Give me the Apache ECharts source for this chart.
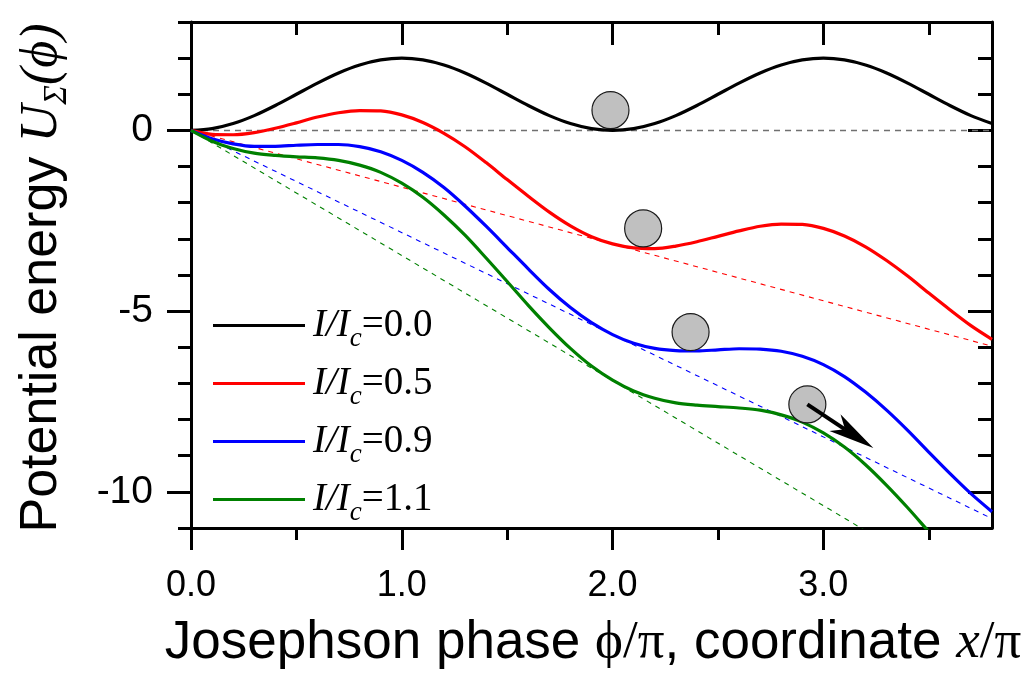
<!DOCTYPE html>
<html>
<head>
<meta charset="utf-8">
<script src="https://cdn.jsdelivr.net/npm/echarts@6/dist/echarts.min.js"></script>
<style>
  html, body { margin: 0; padding: 0; background: #fff; }
  #chart { width: 1030px; height: 676px; }
</style>
</head>
<body>
<div id="chart"></div>
<script>
// Josephson phase phi/pi (also coordinate x/pi)
const phase = [0.0, 0.1, 0.2, 0.3, 0.4, 0.5, 0.6, 0.7, 0.8, 0.9,
               1.0, 1.1, 1.2, 1.3, 1.4, 1.5, 1.6, 1.7, 1.8, 1.9,
               2.0, 2.1, 2.2, 2.3, 2.4, 2.5, 2.6, 2.7, 2.8, 2.9,
               3.0, 3.1, 3.2, 3.3, 3.4, 3.5, 3.6, 3.7, 3.8];

// Washboard potential for each bias current I/Ic
const u00 = [0, 0.05, 0.19, 0.41, 0.69, 1.00, 1.31, 1.59, 1.81, 1.95,
             2.00, 1.95, 1.81, 1.59, 1.31, 1.00, 0.69, 0.41, 0.19, 0.05,
             0.00, 0.05, 0.19, 0.41, 0.69, 1.00, 1.31, 1.59, 1.81, 1.95,
             2.00, 1.95, 1.81, 1.59, 1.31, 1.00, 0.69, 0.41, 0.19];
const u05 = [0, -0.11, -0.12, -0.06, 0.06, 0.21, 0.37, 0.49, 0.55, 0.54,
             0.43, 0.22, -0.08, -0.45, -0.89, -1.36, -1.82, -2.26, -2.64, -2.94,
             -3.14, -3.25, -3.27, -3.20, -3.08, -2.93, -2.78, -2.65, -2.59, -2.60,
             -2.71, -2.92, -3.22, -3.60, -4.03, -4.50, -4.96, -5.40, -5.78];
const u09 = [0, -0.23, -0.37, -0.44, -0.44, -0.41, -0.39, -0.39, -0.45, -0.59,
             -0.83, -1.16, -1.58, -2.09, -2.65, -3.24, -3.83, -4.40, -4.90, -5.32,
             -5.65, -5.89, -6.03, -6.09, -6.10, -6.07, -6.04, -6.05, -6.11, -6.25,
             -6.48, -6.81, -7.24, -7.74, -8.30, -8.90, -9.49, -10.05, -10.55];
const u11 = [0, -0.30, -0.50, -0.63, -0.69, -0.73, -0.76, -0.83, -0.96, -1.16,
             -1.46, -1.85, -2.34, -2.90, -3.53, -4.18, -4.84, -5.46, -6.03, -6.52,
             -6.91, -7.21, -7.41, -7.54, -7.60, -7.64, -7.68, -7.74, -7.87, -8.07,
             -8.37, -8.76, -9.25, -9.82, -10.44, -11.10, -11.75];

// Tilt lines (linear bias term), end points
const tiltX   = [0, 3.8];
const tilt00  = [0, 0];
const tilt05  = [0, -5.97];
const tilt09  = [0, -10.74];
const tilt11  = [0, -13.15];

// Bias current levels and their colours
const levels = ['0.0', '0.5', '0.9', '1.1'];
const colors = ['#000000', '#ff0000', '#0000ff', '#008000'];

// Particle (ball) positions on the potential
const ballX = [1.99, 2.145, 2.37, 2.924];
const ballY = [0.56, -2.71, -5.58, -7.58];

// Arrow showing the running state
const arrowFrom = [2.924, -7.58];
const arrowTo   = [3.237, -8.79];

// Axis ticks
const xMajor = [0, 1, 2, 3];
const xMinor = [0.5, 1.5, 2.5, 3.5];
const yMajor = [-10, -5, 0];
const yMinor = [-11, -9, -8, -7, -6, -4, -3, -2, -1, 1, 2, 3];

const seriesValues = [u00, u05, u09, u11];
const tiltValues = [tilt00, tilt05, tilt09, tilt11];
const names = levels.map(l => 'I/Ic=' + l);

const SERIF = "'Liberation Serif', 'DejaVu Serif', serif";
const SANS = "'Liberation Sans', Arial, sans-serif";

function xAxisDef(position, values, len, inside, withLine, withLabel) {
  return {
    type: 'value', position, min: 0, max: 3.8,
    splitLine: { show: false },
    minorTick: { show: false },
    axisLine: { show: withLine, onZero: false, lineStyle: { color: '#000', width: 3 } },
    axisTick: { show: true, inside, length: len, customValues: values,
                lineStyle: { color: '#000', width: 3 } },
    axisLabel: { show: withLabel, customValues: values, margin: 40,
                 formatter: v => v.toFixed(1),
                 color: '#000', fontFamily: SANS, fontSize: 36 },
    axisPointer: { show: false }
  };
}
function yAxisDef(position, values, len, inside, withLine, withLabel) {
  return {
    type: 'value', position, min: -11, max: 3,
    splitLine: { show: false },
    minorTick: { show: false },
    axisLine: { show: withLine, onZero: false, lineStyle: { color: '#000', width: 3 } },
    axisTick: { show: true, inside, length: len, customValues: values,
                lineStyle: { color: '#000', width: 3 } },
    axisLabel: { show: withLabel, customValues: values, margin: 38,
                 color: '#000', fontFamily: SANS, fontSize: 39 },
    axisPointer: { show: false }
  };
}

const series = [];
// tilt lines
tiltValues.forEach((t, k) => {
  series.push({
    type: 'line', name: 'tilt' + k, silent: true, symbol: 'none', z: 1,
    data: tiltX.map((x, i) => [x, t[i]]),
    lineStyle: { color: k === 0 ? '#707070' : colors[k], width: k === 0 ? 1.6 : 1.1,
                 type: k === 0 ? [6, 5] : [5, 5] }
  });
});
// potential curves
seriesValues.forEach((vals, k) => {
  series.push({
    type: 'line', name: names[k], symbol: 'none', showSymbol: false, smooth: 0.3, z: 3,
    data: vals.map((v, i) => [phase[i], v]),
    itemStyle: { color: colors[k] },
    lineStyle: { color: colors[k], width: 3.2 }
  });
});
// balls
series.push({
  type: 'scatter', name: 'balls', silent: true, z: 5, symbolSize: 37,
  data: ballX.map((x, i) => [x, ballY[i]]),
  itemStyle: { color: '#c0c0c0', borderColor: '#1a1a1a', borderWidth: 1.2, opacity: 1 }
});
// arrow
series.push({
  type: 'custom', name: 'arrow', silent: true, z: 6, clip: false,
  encode: { x: [0, 2], y: [1, 3] },
  data: [[arrowFrom[0], arrowFrom[1], arrowTo[0], arrowTo[1]]],
  renderItem(params, api) {
    const p0 = api.coord([api.value(0), api.value(1)]);
    const p1 = api.coord([api.value(2), api.value(3)]);
    const dx = p1[0] - p0[0], dy = p1[1] - p0[1];
    const len = Math.hypot(dx, dy);
    const ux = dx / len, uy = dy / len, px = -uy, py = ux;
    const headLen = 46, halfW = 10, notch = 12;
    const bx = p1[0] - ux * headLen, by = p1[1] - uy * headLen;
    const nx = p1[0] - ux * (headLen - notch), ny = p1[1] - uy * (headLen - notch);
    return {
      type: 'group',
      children: [
        { type: 'line', shape: { x1: p0[0], y1: p0[1], x2: nx, y2: ny },
          style: { stroke: '#000', lineWidth: 4 } },
        { type: 'polygon',
          shape: { points: [[p1[0], p1[1]], [bx + px * halfW, by + py * halfW], [nx, ny],
                            [bx - px * halfW, by - py * halfW]] },
          style: { fill: '#000' } }
      ]
    };
  }
});

const chart = echarts.init(document.getElementById('chart'), null, { renderer: 'canvas' });
chart.setOption({
  animation: false,
  backgroundColor: '#fff',
  textStyle: { fontFamily: SANS, color: '#000' },
  grid: { left: 191, right: 38, top: 22, bottom: 148, containLabel: false, outerBoundsMode: 'none' },
  xAxis: [
    xAxisDef('bottom', xMajor, 22, false, true, true),
    xAxisDef('bottom', xMinor, 12, false, false, false),
    xAxisDef('top', xMajor, 23, true, true, false),
    xAxisDef('top', xMinor, 13, true, false, false)
  ],
  yAxis: [
    yAxisDef('left', yMajor, 24, false, true, true),
    yAxisDef('left', yMinor, 13, false, false, false),
    yAxisDef('right', yMajor, 24, true, true, false),
    yAxisDef('right', yMinor, 14, true, false, false)
  ],
  legend: {
    data: names, orient: 'vertical', left: 213, top: 306, padding: 0,
    itemWidth: 92, itemHeight: 3, itemGap: 12, icon: 'rect', selectedMode: false,
    formatter: name => '{i|I/I}{s|c}{n|=' + name.split('=')[1] + '}',
    textStyle: {
      padding: [0, 0, 0, 3],
      rich: {
        i: { fontFamily: SERIF, fontStyle: 'italic', fontSize: 39, color: '#000' },
        s: { fontFamily: SERIF, fontStyle: 'italic', fontSize: 27, color: '#000', padding: [26, 0, 0, 0] },
        n: { fontFamily: SERIF, fontSize: 39, color: '#000' }
      }
    }
  },
  graphic: [
    {
      type: 'text', x: 593, y: 643, silent: true,
      style: {
        text: '{a|Josephson phase }{s|ϕ/π}{a|, coordinate }{si|x}{s|/π}',
        align: 'center', verticalAlign: 'middle', fill: '#000',
        rich: {
          a: { fontFamily: SANS, fontSize: 53, fill: '#000' },
          s: { fontFamily: SERIF, fontSize: 53, fill: '#000' },
          si: { fontFamily: SERIF, fontStyle: 'italic', fontSize: 53, fill: '#000' }
        }
      }
    },
    {
      type: 'text', x: 42, y: 278, rotation: Math.PI / 2, silent: true,
      style: {
        text: '{a|Potential energy }{u|U}{sub|Σ}{u|(ϕ)}',
        align: 'center', verticalAlign: 'middle', fill: '#000',
        rich: {
          a: { fontFamily: SANS, fontSize: 52, fill: '#000' },
          u: { fontFamily: SERIF, fontStyle: 'italic', fontSize: 52, fill: '#000' },
          sub: { fontFamily: SERIF, fontStyle: 'italic', fontSize: 33, fill: '#000', padding: [31, 0, 0, 0] }
        }
      }
    }
  ],
  series
});
</script>
</body>
</html>
